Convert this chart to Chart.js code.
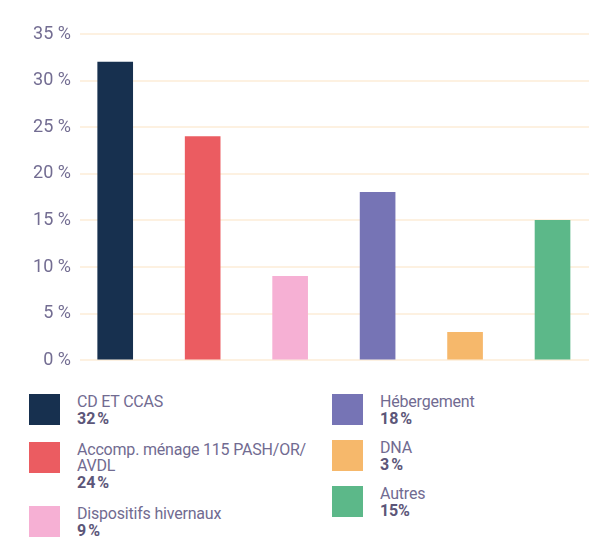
<!DOCTYPE html>
<html>
<head>
<meta charset="utf-8">
<script src="https://cdn.jsdelivr.net/npm/chart.js@4"></script>
<style>
  html, body { margin: 0; padding: 0; background: #fff; }
  body { width: 601px; height: 540px; position: relative; overflow: hidden; font-family: Roboto, "Noto Sans", sans-serif; }
  #wrap { position: absolute; left: 0; top: 0; width: 601px; height: 380px; }
  .legcol { position: absolute; top: 394px; }
  #legL { left: 29px; width: 300px; }
  #legR { left: 332px; width: 260px; }
  .item { display: flex; align-items: flex-start; margin-bottom: 15px; }
  #legR .item { margin-bottom: 13px; }
  .sw { width: 31px; height: 31px; flex: 0 0 31px; margin-right: 17px; }
  .txt { font-size: 16px; line-height: 16px; color: #716b91; letter-spacing: -0.2px; }
  #legL .txt { width: 240px; }
  .txt b { font-weight: 700; color: #5c5679; display: block; margin-top: 1px; }
</style>
</head>
<body>
<div id="wrap"><canvas id="c"></canvas></div>
<div class="legcol" id="legL"></div>
<div class="legcol" id="legR"></div>
<script>
const categories = ["CD ET CCAS", "Accomp. ménage 115 PASH/OR/AVDL", "Dispositifs hivernaux", "Hébergement", "DNA", "Autres"];
const values = [32, 24, 9, 18, 3, 15];
const valueLabels = ["32\u202f%", "24\u202f%", "9\u202f%", "18\u202f%", "3\u202f%", "15%"];
const colors = ["#17304f", "#eb5c61", "#f6b0d4", "#7674b5", "#f6b86b", "#5cb889"];
const yTicks = [0, 5, 10, 15, 20, 25, 30, 35];

const points = values.map((v, i) => ({ x: i, y: v }));

new Chart(document.getElementById('c'), {
  type: 'bar',
  data: {
    datasets: [{
      data: points,
      backgroundColor: colors,
      borderWidth: 0,
      barThickness: 35
    }]
  },
  options: {
    responsive: true,
    maintainAspectRatio: false,
    animation: false,
    layout: { padding: { top: 34, bottom: 12, right: 12, left: 0 } },
    plugins: { legend: { display: false }, tooltip: { enabled: false } },
    scales: {
      x: {
        type: 'linear',
        display: false,
        offset: false,
        min: -0.4025,
        max: 5.417,
        grid: { display: false }
      },
      y: {
        min: 0,
        max: 35,
        afterFit: (s) => { s.width = 80; },
        afterBuildTicks: (s) => { s.ticks = yTicks.map(v => ({ value: v })); },
        border: { display: false },
        grid: { color: '#fdf1e1', lineWidth: 2, drawTicks: false },
        ticks: {
          padding: 9,
          color: '#736d92',
          font: { family: 'Roboto', size: 18 },
          callback: (v) => v + ' %'
        }
      }
    }
  }
});

function item(i) {
  const d = document.createElement('div');
  d.className = 'item';
  const sw = document.createElement('div');
  sw.className = 'sw';
  sw.style.background = colors[i];
  const t = document.createElement('div');
  t.className = 'txt';
  t.innerHTML = categories[i].replace(/\//g, '/<wbr>') + '<b>' + valueLabels[i] + '</b>';
  d.appendChild(sw); d.appendChild(t);
  return d;
}
[0, 1, 2].forEach(i => document.getElementById('legL').appendChild(item(i)));
[3, 4, 5].forEach(i => document.getElementById('legR').appendChild(item(i)));
</script>
</body>
</html>
